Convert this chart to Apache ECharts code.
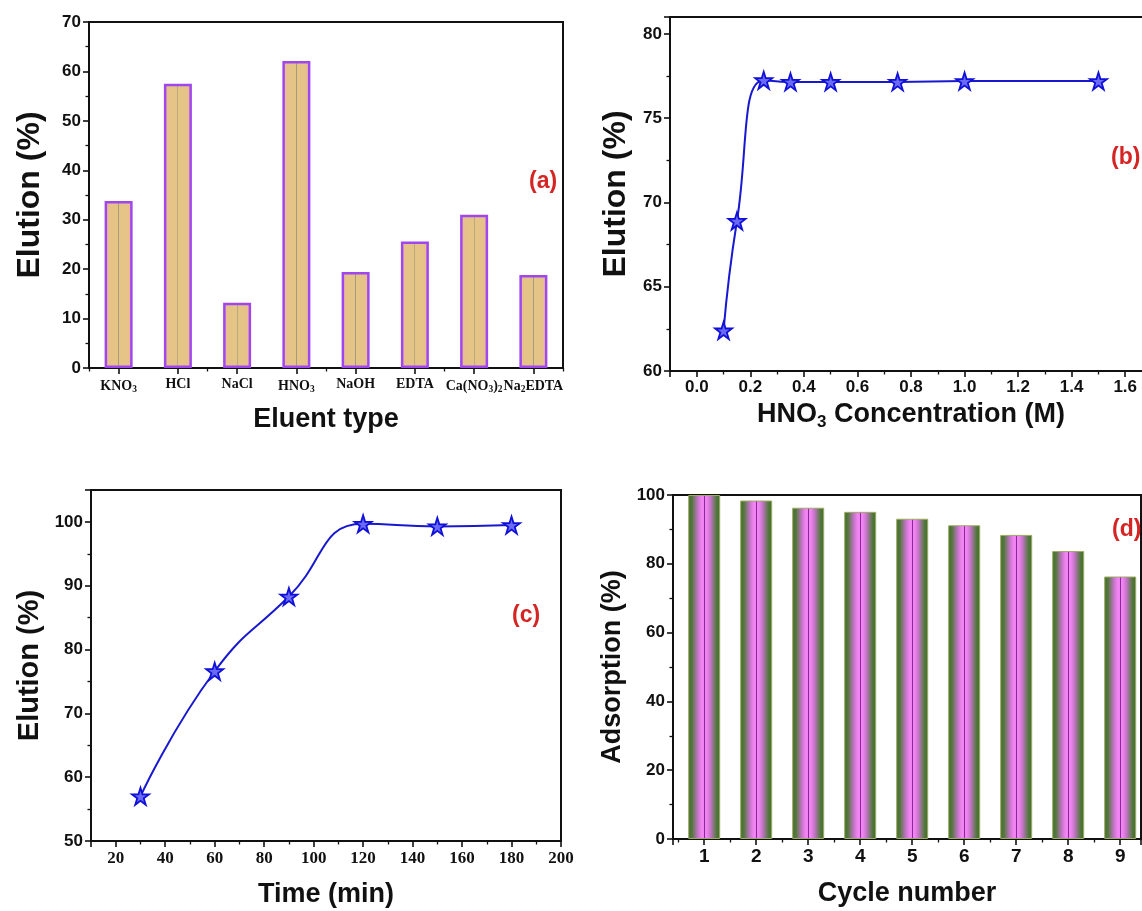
<!DOCTYPE html>
<html>
<head>
<meta charset="utf-8">
<script src="https://cdn.jsdelivr.net/npm/echarts@6/dist/echarts.min.js"></script>
<style>
html,body{margin:0;padding:0;background:#fff;}
#chart{width:1142px;height:911px;}
</style>
</head>
<body>
<div id="chart"></div>
<script>
// ---- data ----
const catA = ['KNO3', 'HCl', 'NaCl', 'HNO3', 'NaOH', 'EDTA', 'Ca(NO3)2', 'Na2EDTA'];
const valA = [33.8, 57.5, 13.2, 62.1, 19.4, 25.6, 31.0, 18.8];

const concB = [0.1, 0.15, 0.25, 0.35, 0.5, 0.75, 1.0, 1.5];
const eluB = [62.4, 68.9, 77.25, 77.15, 77.15, 77.15, 77.2, 77.2];

const timeC = [30, 60, 90, 120, 150, 180];
const eluC = [57.0, 76.6, 88.3, 99.7, 99.3, 99.5];

const cycleD = [1, 2, 3, 4, 5, 6, 7, 8, 9];
const adsD = [100, 98.4, 96.3, 95.1, 93.1, 91.2, 88.4, 83.7, 76.3];

const panelTags = ['(a)', '(b)', '(c)', '(d)'];

// ---- styles ----
const SANS = 'Liberation Sans, Arial, sans-serif';
const SERIF = 'Liberation Serif, Times New Roman, serif';
const INK = '#111';
const STAR = 'path://M50,0 L61.2,34.5 L97.6,34.5 L68.2,55.9 L79.4,90.5 L50,69.1 L20.6,90.5 L31.8,55.9 L2.4,34.5 L38.8,34.5 Z';

function subFmt(v) {
  return v.replace(/(\d)/g, '{s|$1}');
}

const axisLineStyle = {show: true, onZero: false, lineStyle: {color: INK, width: 2}};
const tickStyle = {show: true, length: 6, lineStyle: {color: INK, width: 1.6}};
const minorStyle = {show: true, splitNumber: 2, length: 3.5, lineStyle: {color: INK, width: 1.3}};
const xNameStyle = {fontFamily: SANS, fontWeight: 'bold', fontSize: 27, color: INK};
const yName = size => ({fontFamily: SANS, fontWeight: 'bold', fontSize: size, color: INK});
const numLabel = {fontFamily: SANS, fontWeight: 'bold', fontSize: 17, color: INK, margin: 8};

const grids = [
  {left: 89, top: 22, width: 474, height: 346},
  {left: 670, top: 17, width: 482, height: 354},
  {left: 91, top: 490, width: 470, height: 351},
  {left: 673, top: 495, width: 468, height: 344}
].map(g => Object.assign({show: true, borderColor: INK, borderWidth: 2,
  backgroundColor: 'transparent', outerBoundsMode: 'none', containLabel: false}, g));

const starItem = {color: '#6a6af5', borderColor: '#1010d8', borderWidth: 1.8};

const option = {
  animation: false,
  backgroundColor: '#fff',
  grid: grids,
  xAxis: [
    { // a
      type: 'category', gridIndex: 0, data: catA,
      axisLine: axisLineStyle,
      axisTick: Object.assign({}, tickStyle, {alignWithLabel: true}),
      axisLabel: {
        interval: 0, margin: 9, fontFamily: SERIF, fontWeight: 'bold', fontSize: 14, color: INK,
        formatter: subFmt,
        rich: {s: {fontFamily: SERIF, fontWeight: 'bold', fontSize: 9.5, color: INK, padding: [8, 0, 0, 0]}}
      },
      splitLine: {show: false},
      name: 'Eluent type', nameLocation: 'middle', nameGap: 38, nameTextStyle: xNameStyle
    },
    { // a minor ticks at category boundaries
      type: 'category', gridIndex: 0, data: catA, position: 'bottom',
      axisLine: {show: false},
      axisTick: {show: true, length: 3.5, lineStyle: {color: INK, width: 1.3}},
      axisLabel: {show: false}, splitLine: {show: false}
    },
    { // b
      type: 'value', gridIndex: 1, min: -0.1, max: 1.7, splitNumber: 9,
      axisLine: axisLineStyle, axisTick: tickStyle, minorTick: minorStyle,
      axisLabel: Object.assign({}, numLabel, {showMinLabel: false, showMaxLabel: false,
        formatter: v => v.toFixed(1)}),
      splitLine: {show: false},
      name: '{a|HNO}{s|3}{a| Concentration (M)}', nameLocation: 'middle', nameGap: 27,
      nameTextStyle: Object.assign({}, xNameStyle, {rich: {
        a: {fontFamily: SANS, fontWeight: 'bold', fontSize: 27, color: INK},
        s: {fontFamily: SANS, fontWeight: 'bold', fontSize: 17, color: INK, padding: [16, 0, 0, 0]}
      }})
    },
    { // c
      type: 'value', gridIndex: 2, min: 10, max: 200, splitNumber: 9,
      axisLine: axisLineStyle, axisTick: tickStyle, minorTick: minorStyle,
      axisLabel: {fontFamily: SERIF, fontWeight: 'bold', fontSize: 17, color: INK, margin: 9, showMinLabel: false},
      splitLine: {show: false},
      name: 'Time (min)', nameLocation: 'middle', nameGap: 40, nameTextStyle: xNameStyle
    },
    { // d
      type: 'value', gridIndex: 3, min: 0.4, max: 9.4, splitNumber: 9,
      axisLine: axisLineStyle, axisTick: tickStyle, minorTick: minorStyle,
      axisLabel: Object.assign({}, numLabel, {fontSize: 19, showMinLabel: false, showMaxLabel: false}),
      splitLine: {show: false},
      name: 'Cycle number', nameLocation: 'middle', nameGap: 41, nameTextStyle: xNameStyle
    }
  ],
  yAxis: [
    {
      type: 'value', gridIndex: 0, min: 0, max: 70, interval: 10,
      axisLine: axisLineStyle, axisTick: tickStyle, minorTick: minorStyle,
      axisLabel: numLabel, splitLine: {show: false},
      name: 'Elution (%)', nameLocation: 'middle', nameGap: 43, nameTextStyle: yName(32)
    },
    {
      type: 'value', gridIndex: 1, min: 60, max: 81, interval: 5,
      axisLine: axisLineStyle, axisTick: tickStyle, minorTick: minorStyle,
      axisLabel: Object.assign({}, numLabel, {showMaxLabel: false}), splitLine: {show: false},
      name: 'Elution (%)', nameLocation: 'middle', nameGap: 38, nameTextStyle: yName(32)
    },
    {
      type: 'value', gridIndex: 2, min: 50, max: 105, interval: 10,
      axisLine: axisLineStyle, axisTick: tickStyle, minorTick: minorStyle,
      axisLabel: Object.assign({}, numLabel, {showMaxLabel: false}), splitLine: {show: false},
      name: 'Elution (%)', nameLocation: 'middle', nameGap: 47, nameTextStyle: yName(29)
    },
    {
      type: 'value', gridIndex: 3, min: 0, max: 100, interval: 20,
      axisLine: axisLineStyle, axisTick: tickStyle, minorTick: minorStyle,
      axisLabel: numLabel, splitLine: {show: false},
      name: 'Adsorption (%)', nameLocation: 'middle', nameGap: 47, nameTextStyle: yName(27)
    }
  ],
  series: [
    {
      type: 'bar', xAxisIndex: 0, yAxisIndex: 0, data: valA, barWidth: 28,
      itemStyle: {
        color: {type: 'linear', x: 0, y: 0, x2: 1, y2: 0, colorStops: [
          {offset: 0, color: '#ebb89c'}, {offset: 0.2, color: '#e6c288'},
          {offset: 0.48, color: '#e4c585'}, {offset: 0.49, color: '#a89a80'},
          {offset: 0.51, color: '#a89a80'}, {offset: 0.52, color: '#e4c585'},
          {offset: 0.8, color: '#e6c288'}, {offset: 1, color: '#ebb89c'}
        ]},
        borderColor: '#a046ee', borderWidth: 2.5
      }
    },
    {
      type: 'line', xAxisIndex: 2, yAxisIndex: 1,
      data: concB.map((x, i) => [x, eluB[i]]),
      smooth: 0.5, symbol: STAR, symbolSize: 17,
      lineStyle: {color: '#1818d0', width: 2},
      itemStyle: starItem, z: 3
    },
    {
      type: 'line', xAxisIndex: 3, yAxisIndex: 2,
      data: timeC.map((x, i) => [x, eluC[i]]),
      smooth: 0.5, symbol: STAR, symbolSize: 17,
      lineStyle: {color: '#1818d0', width: 2},
      itemStyle: starItem, z: 3
    },
    {
      type: 'bar', xAxisIndex: 4, yAxisIndex: 3,
      data: cycleD.map((c, i) => [c, adsD[i]]), barWidth: 32,
      itemStyle: {
        color: {type: 'linear', x: 0, y: 0, x2: 1, y2: 0, colorStops: [
          {offset: 0, color: '#3f6e2c'}, {offset: 0.12, color: '#55773f'},
          {offset: 0.3, color: '#c274c6'}, {offset: 0.42, color: '#f283f2'},
          {offset: 0.485, color: '#f283f2'}, {offset: 0.49, color: '#8a2a9a'},
          {offset: 0.51, color: '#8a2a9a'}, {offset: 0.515, color: '#f283f2'},
          {offset: 0.58, color: '#f283f2'}, {offset: 0.7, color: '#c274c6'},
          {offset: 0.88, color: '#55773f'}, {offset: 1, color: '#3f6e2c'}
        ]},
        borderColor: '#9cab62', borderWidth: 1
      }
    }
  ],
  graphic: [
    {type: 'text', left: 529, top: 170, style: {text: panelTags[0], fill: '#d42424', font: 'bold 23px ' + SANS}},
    {type: 'text', left: 1111, top: 146, style: {text: panelTags[1], fill: '#d42424', font: 'bold 23px ' + SANS}},
    {type: 'text', left: 512, top: 604, style: {text: panelTags[2], fill: '#d42424', font: 'bold 23px ' + SANS}},
    {type: 'text', left: 1112, top: 518, style: {text: panelTags[3], fill: '#d42424', font: 'bold 23px ' + SANS}}
  ]
};

const chart = echarts.init(document.getElementById('chart'), null, {renderer: 'canvas'});
chart.setOption(option);
</script>
</body>
</html>
